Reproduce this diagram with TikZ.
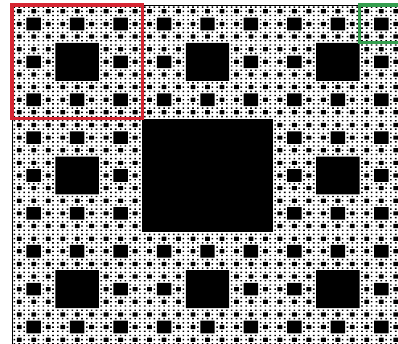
\documentclass[tikz,border=0pt]{standalone}
\usepackage{tikz}
\usetikzlibrary{positioning}

\definecolor{markred}{RGB}{214,38,50}
\definecolor{markgreen}{RGB}{52,158,78}

\begin{document}
\begin{tikzpicture}[
  x=1pt, y=1pt,
  hole/.style={fill=black},
  frame/.style={draw=black, line width=0.9pt},
  redmark/.style={draw=markred, line width=3.2pt},
  greenmark/.style={draw=markgreen, line width=3.2pt}
]
%% Canvas, clipped to the visible window
\useasboundingbox (0,0) rectangle (398,-344);
\clip (0,0) rectangle (398,-344);

%% Carpet: top-left at (12,-5), 391 wide, 341 tall
\foreach \n in {1,3,9,27,81} {
  \pgfmathtruncatemacro{\m}{\n-1}
  \pgfmathsetmacro{\w}{391/(3*\n)}
  \pgfmathsetmacro{\h}{341/(3*\n)}
  \fill[hole] \foreach \a in {0,...,\m} {
    \foreach \b in {0,...,\m} {
      ({12+(3*\a+1)*\w}, {-5-(3*\b+1)*\h}) rectangle ++(\w,-\h)
    }
  };
}
\draw[frame] (12,-5) rectangle ++(391,-341);

%% Highlighted sub-squares
\draw[redmark]   (12,-5) rectangle ++({391/3},{-341/3});
\draw[greenmark] ({12+8*391/9},-5) rectangle ++({391/9},{-341/9});
\end{tikzpicture}
\end{document}
